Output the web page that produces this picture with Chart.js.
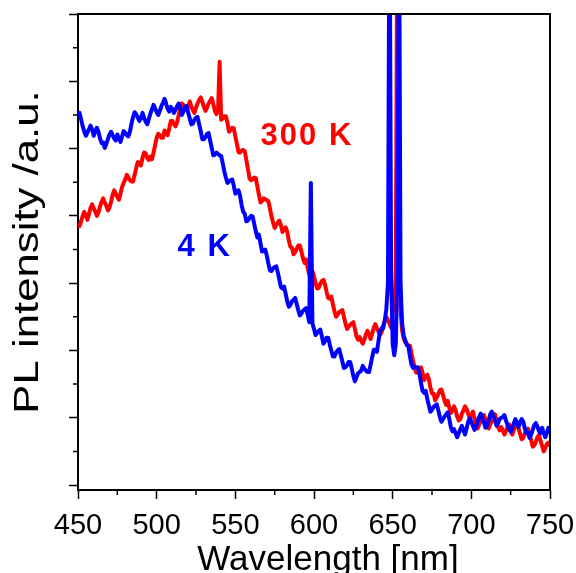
<!DOCTYPE html>
<html>
  <head>
    <title>PL spectra</title>
    <meta charset="UTF-8">
    <script src="https://cdn.jsdelivr.net/npm/chart.js@4.4.1/dist/chart.umd.min.js"></script>
    <style>
      html, body { margin: 0; padding: 0; background: #fff; }
    </style>
  </head>
  <body>
    <canvas id="plChart" width="576" height="573"></canvas>
    <script>
      // wavelength grid, nm
      const wavelength = [
        450,451,452,453,454,455,456,457,458,459,460,461,462,463,464,465,466,467,468,469,
        470,471,472,473,474,475,476,477,478,479,480,481,482,483,484,485,486,487,488,489,
        490,491,492,493,494,495,496,497,498,499,500,501,502,503,504,505,506,507,508,509,
        510,511,512,513,514,515,516,517,518,519,520,521,522,523,524,525,526,527,528,529,
        530,531,532,533,534,535,536,537,538,539,540,541,542,543,544,545,546,547,548,549,
        550,551,552,553,554,555,556,557,558,559,560,561,562,563,564,565,566,567,568,569,
        570,571,572,573,574,575,576,577,578,579,580,581,582,583,584,585,586,587,588,589,
        590,591,592,593,594,595,596,597,598,599,600,601,602,603,604,605,606,607,608,609,
        610,611,612,613,614,615,616,617,618,619,620,621,622,623,624,625,626,627,628,629,
        630,631,632,633,634,635,636,637,638,639,640,641,642,643,644,645,646,647,648,649,
        650,651,652,653,654,655,656,657,658,659,660,661,662,663,664,665,666,667,668,669,
        670,671,672,673,674,675,676,677,678,679,680,681,682,683,684,685,686,687,688,689,
        690,691,692,693,694,695,696,697,698,699,700,701,702,703,704,705,706,707,708,709,
        710,711,712,713,714,715,716,717,718,719,720,721,722,723,724,725,726,727,728,729,
        730,731,732,733,734,735,736,737,738,739,740,741,742,743,744,745,746,747,748,749,
        750
      ];

      // 4 K spectrum (blue), a.u.
      const pl4K = [
        5.52,5.53,5.43,5.33,5.25, 5.19,5.24,5.29,5.34,5.28, 5.19,5.26,5.31,5.25,5.15, 5.08,5.09,5.01,5.07,5.14,
        5.21,5.25,5.20,5.15,5.12, 5.21,5.15,5.10,5.18,5.26, 5.24,5.20,5.18,5.25,5.37, 5.47,5.54,5.51,5.46,5.41,
        5.45,5.53,5.46,5.40,5.36, 5.44,5.52,5.58,5.65,5.60, 5.54,5.50,5.56,5.63,5.68, 5.74,5.67,5.59,5.55,5.62,
        5.59,5.53,5.58,5.63,5.67, 5.60,5.50,5.55,5.62,5.63, 5.54,5.45,5.36,5.37,5.43, 5.46,5.47,5.36,5.26,5.14,
        5.14,5.17,5.22,5.23,5.12, 5.01,4.90,4.91,4.94,4.92, 4.90,4.89,4.78,4.66,4.57, 4.49,4.51,4.53,4.54,4.45,
        4.33,4.37,4.38,4.30,4.16, 4.06,4.03,3.92,3.93,3.97, 4.00,3.99,3.88,3.77,3.68, 3.72,3.59,3.47,3.48,3.50,
        3.41,3.29,3.19,3.18,3.22, 3.24,3.25,3.16,3.05,2.94, 2.92,2.95,2.84,2.73,2.65, 2.68,2.73,2.75,2.78,2.69,
        2.60,2.52,2.55,2.59,2.61, 2.63,2.53,2.42,4.49,2.40, 2.32,2.23,2.26,2.29,2.31, 2.21,2.10,2.14,2.19,2.19,
        2.09,2.00,1.91,1.91,1.97, 2.00,2.02,1.93,1.84,1.74, 1.75,1.78,1.83,1.83,1.73, 1.62,1.54,1.60,1.66,1.68,
        1.70,1.77,1.73,1.70,1.68, 1.68,1.79,1.90,2.01,2.01, 1.98,2.14,2.29,2.33,2.33, 2.45,2.62,3.00,9.00,3.20,
        2.10,1.93,2.10,3.20,9.00, 3.00,2.40,2.22,2.15,2.08, 2.06,1.91,1.79,1.74,1.76, 1.75,1.75,1.65,1.52,1.40,
        1.37,1.40,1.28,1.18,1.09, 1.12,1.16,1.18,1.20,1.11, 1.01,0.94,0.98,1.02,1.05, 1.08,0.98,0.86,0.80,0.83,
        0.77,0.71,0.77,0.83,0.88, 0.81,0.75,0.84,0.94,0.99, 0.94,0.88,0.82,0.86,0.95, 1.01,1.06,0.99,0.93,0.85,
        0.89,0.96,1.05,1.09,1.03, 0.96,0.88,0.92,0.98,1.00, 1.01,1.04,0.96,0.89,0.83, 0.79,0.86,0.92,0.98,0.93,
        0.86,0.93,0.98,0.94,0.84, 0.77,0.78,0.70,0.75,0.82, 0.89,0.92,0.87,0.80,0.77, 0.85,0.77,0.71,0.77,0.85,
        0.79
      ];

      // 300 K spectrum (red), a.u.
      const pl300K = [
        3.89,3.85,3.92,4.00,4.06, 4.01,3.94,4.03,4.12,4.17, 4.11,4.06,4.00,4.05,4.14, 4.21,4.26,4.20,4.15,4.08,
        4.12,4.21,4.31,4.38,4.33, 4.28,4.24,4.33,4.43,4.49, 4.54,4.61,4.57,4.53,4.51, 4.51,4.61,4.71,4.80,4.79,
        4.75,4.86,4.94,4.93,4.86, 4.83,4.88,4.84,4.94,5.05, 5.16,5.22,5.20,5.16,5.16, 5.27,5.23,5.20,5.30,5.41,
        5.41,5.36,5.33,5.39,5.50, 5.59,5.67,5.65,5.61,5.57, 5.62,5.70,5.63,5.57,5.53, 5.61,5.67,5.72,5.76,5.70,
        5.62,5.56,5.61,5.67,5.71, 5.75,5.66,5.56,5.51,5.56, 6.29,5.43,5.45,5.48,5.48, 5.38,5.25,5.28,5.31,5.30,
        5.18,5.07,4.95,4.94,4.97, 4.98,4.96,4.83,4.70,4.56, 4.53,4.54,4.57,4.56,4.44, 4.31,4.20,4.22,4.26,4.25,
        4.23,4.22,4.11,3.99,3.90, 3.82,3.86,3.90,3.93,3.86, 3.76,3.81,3.83,3.76,3.63, 3.54,3.53,3.43,3.46,3.51,
        3.56,3.56,3.47,3.37,3.30, 3.35,3.23,3.12,3.15,3.18, 3.10,3.00,2.92,2.93,2.99, 3.03,3.05,2.98,2.87,2.78,
        2.77,2.80,2.69,2.58,2.50, 2.53,2.57,2.58,2.60,2.50, 2.40,2.32,2.35,2.38,2.40, 2.42,2.32,2.21,2.16,2.20,
        2.14,2.10,2.16,2.24,2.29, 2.24,2.17,2.25,2.34,2.39, 2.33,2.28,2.23,2.27,2.37, 2.44,2.50,2.45,2.40,2.34,
        2.55,2.70,3.10,9.00,4.00, 2.60,2.30,2.18,2.12,2.10, 2.07,2.07,1.95,1.84,1.74, 1.67,1.70,1.73,1.75,1.67,
        1.56,1.61,1.64,1.57,1.45, 1.36,1.36,1.26,1.30,1.35, 1.41,1.42,1.34,1.25,1.19, 1.25,1.15,1.07,1.11,1.17,
        1.11,1.02,0.96,0.98,1.06, 1.11,1.17,1.13,1.06,1.00, 1.03,1.09,0.99,0.91,0.84, 0.90,0.96,1.00,1.04,0.97,
        0.89,0.84,0.90,0.95,1.00, 1.05,0.96,0.86,0.81,0.86, 0.81,0.75,0.80,0.86,0.90, 0.84,0.75,0.82,0.89,0.92,
        0.84,0.76,0.68,0.70,0.77, 0.81,0.84,0.75,0.67,0.57, 0.59,0.64,0.71,0.74,0.66, 0.58,0.50,0.55,0.61,0.63,
        0.58
      ];

      // axis ticks
      const xMajorTicks = [450, 500, 550, 600, 650, 700, 750];
      const xMinorTicks = [475, 525, 575, 625, 675, 725];
      const yMajorTicks = [0, 1, 2, 3, 4, 5, 6, 7];
      const yMinorTicks = [0.5, 1.5, 2.5, 3.5, 4.5, 5.5, 6.5];

      const FONT = "'Liberation Sans', Arial, sans-serif";

      // minor ticks, top/right frame, titles and curve labels
      const extras = {
        id: 'extras',
        afterDraw(chart) {
          const { ctx, chartArea: a, scales: { x, y } } = chart;
          ctx.save();
          ctx.strokeStyle = '#000';
          ctx.lineWidth = 1.5;
          ctx.beginPath();
          xMinorTicks.forEach(v => {
            const px = x.getPixelForValue(v);
            ctx.moveTo(px, a.bottom);
            ctx.lineTo(px, a.bottom + 5);
          });
          yMinorTicks.forEach(v => {
            const py = y.getPixelForValue(v);
            ctx.moveTo(a.left, py);
            ctx.lineTo(a.left - 5, py);
          });
          ctx.stroke();

          ctx.lineWidth = 2;
          ctx.beginPath();
          ctx.moveTo(a.left, a.top);
          ctx.lineTo(a.right, a.top);
          ctx.lineTo(a.right, a.bottom);
          ctx.stroke();

          ctx.fillStyle = '#000';
          ctx.font = '35px ' + FONT;
          ctx.textAlign = 'center';
          ctx.textBaseline = 'alphabetic';
          ctx.fillText('Wavelength [nm]', 328, 570);

          ctx.save();
          ctx.translate(38, 252);
          ctx.rotate(-Math.PI / 2);
          ctx.scale(1.25, 1);
          ctx.fillText('PL intensity /a.u.', 0, 0);
          ctx.restore();

          ctx.font = 'bold 31px ' + FONT;
          ctx.textBaseline = 'middle';
          ctx.letterSpacing = '2px';
          ctx.fillStyle = '#ff0000';
          ctx.fillText('300 K', x.getPixelForValue(595.5), y.getPixelForValue(5.18));
          ctx.fillStyle = '#0000ff';
          ctx.fillText('4 K', x.getPixelForValue(530.5), y.getPixelForValue(3.53));
          ctx.restore();
        }
      };

      const ctx = document.getElementById('plChart').getContext('2d');
      const plChart = new Chart(ctx, {
        type: 'line',
        data: {
          datasets: [
            {
              label: '4 K',
              data: wavelength.map((w, i) => ({ x: w, y: pl4K[i] })),
              borderColor: '#0000ff',
              borderWidth: 4,
              borderJoinStyle: 'round',
              pointRadius: 0,
              tension: 0,
              fill: false
            },
            {
              label: '300 K',
              data: wavelength.map((w, i) => ({ x: w, y: pl300K[i] })),
              borderColor: '#ff0000',
              borderWidth: 4,
              borderJoinStyle: 'round',
              pointRadius: 0,
              tension: 0,
              fill: false
            }
          ]
        },
        options: {
          responsive: false,
          animation: false,
          layout: { padding: { top: 14, right: 26, left: 0, bottom: 0 } },
          plugins: {
            legend: { display: false },
            tooltip: { enabled: false }
          },
          scales: {
            x: {
              type: 'linear',
              min: 450,
              max: 750,
              afterBuildTicks: s => { s.ticks = xMajorTicks.map(v => ({ value: v })); },
              afterFit: s => { s.height = 83; s.paddingLeft = 0; s.paddingRight = 0; },
              grid: { drawOnChartArea: false, drawTicks: true, tickLength: 9, tickColor: '#000', tickWidth: 1.5 },
              border: { color: '#000', width: 2 },
              ticks: {
                color: '#000',
                font: { family: FONT, size: 29 },
                padding: 10,
                maxRotation: 0,
                autoSkip: false
              }
            },
            y: {
              type: 'linear',
              min: -0.074,
              max: 7,
              afterBuildTicks: s => { s.ticks = yMajorTicks.map(v => ({ value: v })); },
              afterFit: s => { s.width = 78; s.paddingTop = 0; s.paddingBottom = 0; },
              grid: { drawOnChartArea: false, drawTicks: true, tickLength: 9, tickColor: '#000', tickWidth: 1.5 },
              border: { color: '#000', width: 2 },
              ticks: { display: false }
            }
          }
        },
        plugins: [extras]
      });
    </script>
  </body>
</html>
